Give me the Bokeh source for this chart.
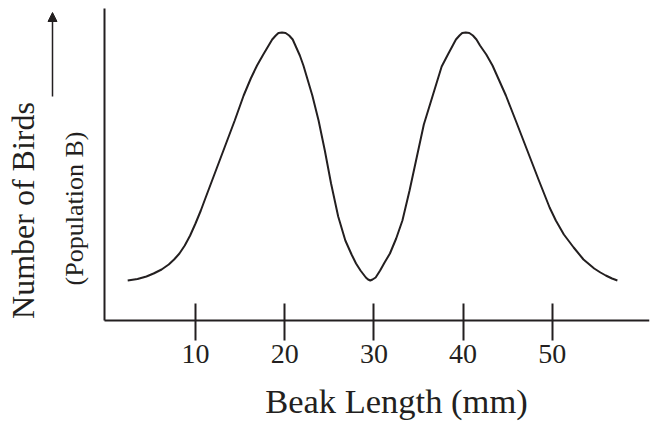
import math
from bokeh.plotting import figure
from bokeh.models import Range1d, Label, Arrow, NormalHead, FixedTicker
from bokeh.embed import file_html
from bokeh.resources import INLINE

# Data (beak length in mm, relative number of birds)
beak_length = [2.4, 3.5, 4.5, 5.3, 6.2, 7.0, 7.6, 8.2, 8.8, 9.4, 10.0, 10.6, 11.1, 12.2, 13.3,
               14.4, 15.4, 16.2, 16.9, 17.6, 18.2, 18.6, 19.0, 19.3, 19.7, 20.1,
               20.5, 20.9, 21.2, 21.7, 22.1, 23.1, 23.8, 24.5, 25.2, 26.0, 26.8, 27.5, 28.0,
               28.5, 29.1, 29.35, 29.6, 29.85,
               30.2, 30.7, 31.2, 31.8, 32.5, 33.2, 34.0, 34.8, 35.6, 36.6, 37.6, 38.3, 38.9,
               39.2, 39.6, 39.9, 40.3, 40.7, 41.1, 41.5,
               41.9, 42.6, 43.3, 44.8, 45.9, 47.2, 48.5, 49.7, 50.4, 51.3, 52.4, 53.5, 54.7,
               55.4, 56.0, 56.7, 57.3]
num_birds = [40, 41.5, 44, 47, 51, 56, 61, 67, 75, 85, 97, 110, 122, 148, 174,
             200, 225, 242, 255, 266, 275, 281, 285, 287.5, 288, 287.5,
             285, 281, 275, 265, 255, 225, 200, 170, 137, 104, 80, 66, 57,
             50, 43, 41, 40, 41,
             43, 50, 58, 67, 82, 100, 130, 163, 196, 225, 254, 266, 276,
             281, 285, 287.5, 288, 287.5, 285, 281,
             275, 266, 255, 225, 200, 170, 140, 113, 100, 86, 73, 61, 52,
             48, 45, 42, 40]
x_ticks = [10, 20, 30, 40, 50]
x_title = "Beak Length (mm)"
y_title = "Number of Birds"
y_subtitle = "(Population B)"

INK = "#231f20"
FONT = "Liberation Serif"

X_MIN, X_AXIS, X_MAX = -11.86, -0.2, 60.9
Y_MIN, Y_AXIS_TOP, Y_MAX = -101, 312, 313

p = figure(frame_width=649, frame_height=414, output_backend="svg", toolbar_location=None,
           x_range=Range1d(X_MIN, X_MAX), y_range=Range1d(Y_MIN, Y_MAX),
           y_axis_location=None,
           min_border_left=0, min_border_right=2, min_border_top=7, min_border_bottom=0)
p.outline_line_color = None
p.xgrid.grid_line_color = None
p.ygrid.grid_line_color = None
p.background_fill_color = "white"

# x axis: Bokeh ticks and labels drawn at y = 0; axis lines drawn from the origin
p.xaxis.fixed_location = 0
p.xaxis.ticker = FixedTicker(ticks=x_ticks, minor_ticks=[])
p.xaxis.axis_line_color = None
p.xaxis.major_tick_line_color = INK
p.xaxis.major_tick_line_width = 2
p.xaxis.major_tick_in = 17
p.xaxis.major_tick_out = 20
p.xaxis.minor_tick_line_color = None
p.xaxis.major_label_text_font = FONT
p.xaxis.major_label_text_font_size = "28px"
p.xaxis.major_label_text_color = INK
p.xaxis.major_label_standoff = 4

p.segment(x0=[X_AXIS, X_AXIS], y0=[0, 0], x1=[X_MAX, X_AXIS], y1=[0, Y_AXIS_TOP],
          line_width=2, line_color=INK)

# curve
p.line(beak_length, num_birds, line_width=2, line_color=INK)

# axis titles and arrow
p.add_layout(Label(x=32.53, y=-80, text=x_title, text_align="center",
                   text_baseline="alphabetic", text_font=FONT, text_font_size="34.5px",
                   text_color=INK))
p.add_layout(Label(x=-9.3, y=110, text=y_title, angle=math.pi / 2, text_align="center",
                   text_baseline="middle", text_font=FONT, text_font_size="32px", text_color=INK))
p.add_layout(Label(x=-3.55, y=112, text=y_subtitle, angle=math.pi / 2, text_align="center",
                   text_baseline="middle", text_font=FONT, text_font_size="26px", text_color=INK))
p.add_layout(Arrow(x_start=-6.03, y_start=224, x_end=-6.03, y_end=308, line_width=1.5,
                   line_color=INK,
                   end=NormalHead(size=9, fill_color=INK, line_color=INK, line_width=1)))

open("out.html", "w").write(file_html(p, INLINE))
